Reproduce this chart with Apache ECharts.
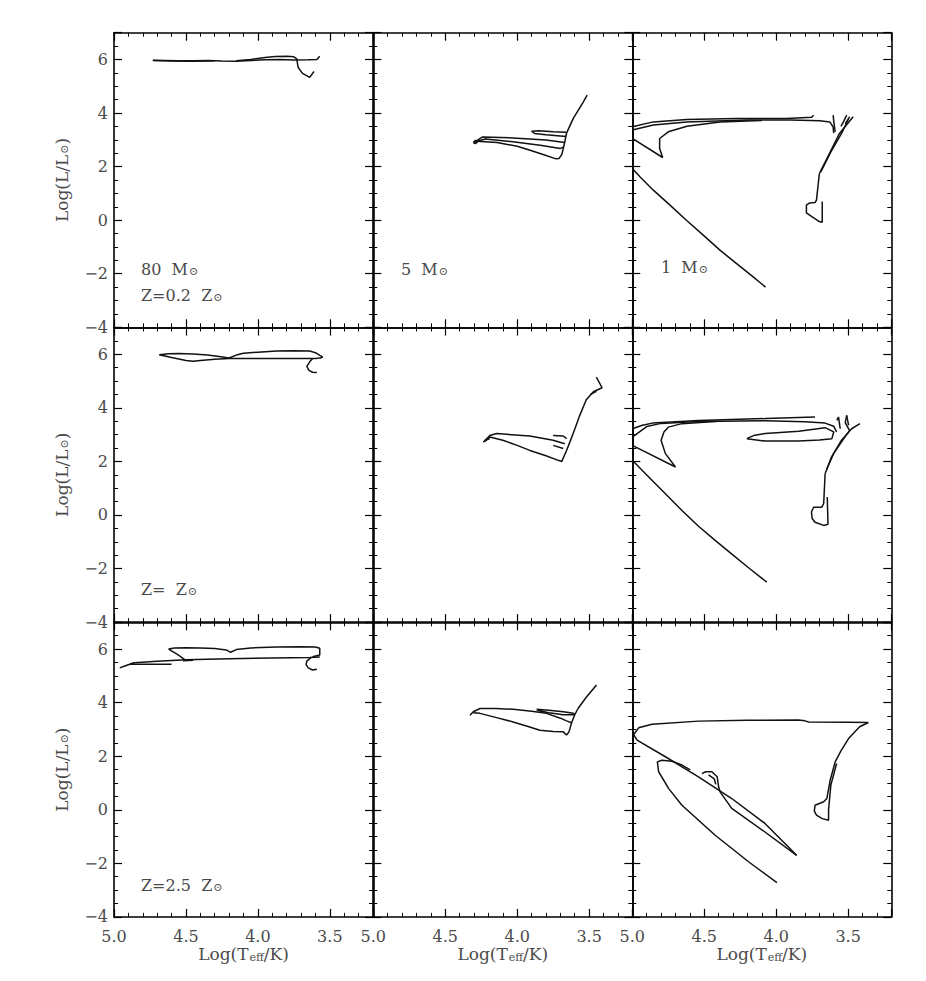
<!DOCTYPE html>
<html>
<head>
<meta charset="utf-8">
<script src="https://cdn.jsdelivr.net/npm/echarts@6/dist/echarts.min.js"></script>
<style>
  html, body { margin: 0; padding: 0; background: #fff; }
  #chart { width: 926px; height: 981px; }
</style>
</head>
<body>
<div id="chart"></div>
<script>
// tick labels and axis ranges
var xTicks = [5.0, 4.5, 4.0, 3.5];
var yTicks = [-4, -2, 0, 2, 4, 6];
var xRange = [3.2, 5.0];
var yRange = [-4, 7];

// --- tracks, one list of polylines per panel: [logTeff, logL] ---
// 80 Msun
var m80z02 = [
  [[4.73,5.97],[4.65,5.96],[4.55,5.95],[4.45,5.95],[4.35,5.96],[4.25,5.94],[4.15,5.93],[4.05,5.96],[3.95,5.99],[3.85,6.0],[3.75,5.98],[3.65,5.99],[3.59,6.0],[3.57,6.12]],
  [[4.73,5.96],[4.6,5.94],[4.45,5.93],[4.3,5.95]],
  [[4.15,5.95],[4.05,6.0],[3.95,6.07],[3.88,6.11],[3.8,6.12],[3.75,6.1],[3.73,6.02],[3.72,5.7],[3.69,5.48],[3.64,5.33],[3.61,5.55]]
];
var m80z1 = [
  [[4.685,5.98],[4.62,6.02],[4.55,6.03],[4.45,6.01],[4.35,5.97],[4.27,5.92],[4.20,5.86],[4.15,5.97],[4.10,6.04],[4.0,6.08],[3.87,6.12],[3.75,6.13],[3.64,6.12],[3.60,6.06],[3.57,5.96],[3.55,5.90],[3.57,5.85]],
  [[4.685,5.98],[4.6,5.88],[4.5,5.77],[4.45,5.74],[4.4,5.77],[4.3,5.81],[4.2,5.84],[4.0,5.84],[3.8,5.84],[3.69,5.84],[3.6,5.84],[3.57,5.86]],
  [[3.62,5.84],[3.64,5.72],[3.66,5.55],[3.645,5.40],[3.62,5.33],[3.59,5.32]]
];
var m80z25 = [
  [[4.96,5.30],[4.92,5.38],[4.86,5.49],[4.89,5.44],[4.60,5.43]],
  [[4.86,5.49],[4.7,5.55],[4.5,5.60],[4.2,5.64],[3.9,5.67],[3.64,5.69],[3.57,5.70]],
  [[4.52,5.56],[4.45,5.58]],
  [[4.51,5.62],[4.56,5.80],[4.62,6.0],[4.58,6.04],[4.5,6.05],[4.4,6.04],[4.3,6.02],[4.22,5.97],[4.19,5.88],[4.15,5.98],[4.05,6.04],[3.87,6.08],[3.7,6.09],[3.6,6.08],[3.57,6.03],[3.57,5.78],[3.62,5.71]],
  [[3.63,5.69],[3.66,5.55],[3.665,5.42],[3.65,5.30],[3.62,5.22],[3.59,5.25]]
];
// 5 Msun
var m5z02 = [
  [[4.30,2.90],[4.28,2.95],[4.14,2.90],[4.0,2.76],[3.91,2.61],[3.82,2.45],[3.73,2.29],[3.71,2.30],[3.69,2.45],[3.67,2.90],[3.657,3.25],[3.61,3.80],[3.54,4.42],[3.514,4.67]],
  [[4.28,2.95],[4.22,3.03],[4.03,2.93],[3.84,2.80],[3.70,2.68],[3.68,2.72]],
  [[4.28,2.97],[4.24,3.11],[4.03,3.07],[3.80,2.99],[3.67,2.90]],
  [[4.305,2.90],[4.29,2.98],[4.27,2.96],[4.29,2.86],[4.305,2.90]],
  [[3.66,3.28],[3.75,3.30],[3.85,3.34],[3.90,3.32],[3.88,3.24],[3.80,3.19],[3.70,3.14],[3.66,3.12]]
];
var m5z1 = [
  [[4.224,2.75],[4.19,2.91],[4.10,2.79],[4.0,2.60],[3.912,2.41],[3.80,2.21],[3.715,2.04],[3.69,2.0],[3.657,2.41],[3.634,2.72],[3.60,3.2],[3.565,3.72],[3.52,4.3],[3.47,4.6],[3.41,4.75],[3.45,5.15]],
  [[4.224,2.78],[4.19,2.97],[4.143,3.04],[3.912,2.95],[3.75,2.79],[3.669,2.66]],
  [[3.75,2.60],[3.68,2.48]],
  [[3.75,2.97],[3.68,2.95],[3.657,2.85]],
  [[4.235,2.72],[4.22,2.80],[4.19,2.85]],
  [[3.49,4.50],[3.45,4.62]]
];
var m5z25 = [
  [[4.328,3.53],[4.305,3.66],[4.259,3.78],[4.15,3.78],[4.028,3.75],[3.90,3.68],[3.796,3.60],[3.70,3.42],[3.657,3.32],[3.622,3.25]],
  [[4.305,3.62],[4.259,3.60],[4.15,3.45],[4.028,3.28],[3.93,3.12],[3.842,2.97],[3.75,2.92],[3.68,2.91],[3.657,2.79],[3.64,2.91],[3.622,3.25],[3.60,3.55],[3.576,3.79],[3.52,4.2],[3.449,4.66]],
  [[3.865,3.75],[3.78,3.72],[3.68,3.66],[3.61,3.60],[3.60,3.55],[3.68,3.55],[3.78,3.62],[3.865,3.72]]
];
// 1 Msun
var m1z02 = [
  [[5.0,1.93],[4.947,1.62],[4.854,1.12],[4.738,0.56],[4.622,-0.01],[4.507,-0.56],[4.391,-1.12],[4.275,-1.62],[4.16,-2.12],[4.074,-2.50]],
  [[5.0,3.49],[4.854,3.67],[4.622,3.76],[4.275,3.80],[3.928,3.80],[3.754,3.84],[3.74,3.92]],
  [[5.0,3.37],[4.854,3.55],[4.622,3.67],[4.2,3.74],[3.9,3.74],[3.697,3.71],[3.628,3.67],[3.605,3.49],[3.60,3.25]],
  [[5.0,3.05],[4.789,2.34],[4.81,2.68],[4.81,3.05],[4.75,3.30],[4.62,3.51],[4.39,3.67],[4.1,3.72]],
  [[3.70,1.74],[3.63,2.49],[3.56,3.24],[3.465,3.86]],
  [[3.69,1.80],[3.62,2.55],[3.54,3.30],[3.49,3.86],[3.52,3.60]],
  [[3.604,3.92],[3.60,3.70],[3.59,3.30]],
  [[3.51,3.92],[3.53,3.70],[3.55,3.50]],
  [[3.70,1.74],[3.72,0.75],[3.73,0.66],[3.77,0.64],[3.79,0.56],[3.79,0.27],[3.75,0.12],[3.70,-0.05],[3.68,-0.08],[3.68,0.2],[3.68,0.70]]
];
var m1z1 = [
  [[5.0,2.04],[4.886,1.42],[4.77,0.79],[4.655,0.17],[4.54,-0.42],[4.424,-0.95],[4.31,-1.45],[4.19,-1.98],[4.065,-2.51]],
  [[5.0,3.22],[4.93,3.35],[4.86,3.43],[4.54,3.53],[4.076,3.60],[3.73,3.66]],
  [[5.0,2.91],[4.90,3.30],[4.80,3.42],[4.54,3.49],[4.076,3.52],[3.80,3.48],[3.66,3.43],[3.60,3.31],[3.58,3.10]],
  [[5.0,2.60],[4.70,1.79],[4.77,2.29],[4.80,2.79],[4.78,3.10],[4.75,3.28],[4.655,3.41],[4.4,3.50]],
  [[4.204,2.85],[4.15,2.98],[4.076,3.04],[3.844,3.13],[3.66,3.26],[3.60,3.10],[3.613,2.85],[3.70,2.80],[3.844,2.76],[4.076,2.76],[4.204,2.85]],
  [[3.66,1.54],[3.616,2.16],[3.546,2.79],[3.476,3.22],[3.418,3.41]],
  [[3.65,1.70],[3.60,2.30],[3.53,2.85],[3.49,3.15],[3.52,3.45],[3.51,3.72]],
  [[3.578,3.53],[3.567,3.66],[3.555,3.22]],
  [[3.51,3.72],[3.497,3.35]],
  [[3.66,1.54],[3.67,0.42],[3.683,0.29],[3.74,0.29],[3.755,0.11],[3.75,-0.13],[3.73,-0.27],[3.67,-0.39],[3.64,-0.35],[3.645,0.67]]
];
var m1z25 = [
  [[4.967,2.60],[4.99,2.81],[4.956,3.06],[4.863,3.19],[4.54,3.31],[4.2,3.34],[3.845,3.35],[3.80,3.32],[3.775,3.28],[3.5,3.27],[3.36,3.26]],
  [[3.36,3.26],[3.42,3.10],[3.497,2.66],[3.55,2.20],[3.59,1.79],[3.625,1.10],[3.648,0.42],[3.67,0.30],[3.73,0.17],[3.735,-0.05],[3.72,-0.20],[3.68,-0.33],[3.636,-0.39],[3.636,0.0],[3.62,0.92],[3.58,1.73]],
  [[4.967,2.60],[4.77,1.98],[4.54,1.23],[4.309,0.42],[4.078,-0.51],[3.858,-1.70]],
  [[3.858,-1.70],[4.078,-0.83],[4.309,0.05],[4.39,0.67],[4.40,0.85],[4.41,1.23],[4.447,1.42],[4.49,1.42],[4.516,1.35]],
  [[4.47,1.30],[4.43,1.15],[4.42,0.95]],
  [[4.597,1.49],[4.655,1.67],[4.724,1.81],[4.794,1.85],[4.826,1.79],[4.817,1.42],[4.747,0.79],[4.655,0.17],[4.424,-0.95],[4.19,-1.95],[3.995,-2.72]]
];

// rows: metallicity, columns: mass
var panels = [
  [m80z02, m5z02, m1z02],
  [m80z1, m5z1, m1z1],
  [m80z25, m5z25, m1z25]
];

var colLeft = [114, 373.3, 632.3];
var rowTop = [32.7, 327.5, 622.3];
var panelW = 259;
var panelH = 294.6;
var font = 'DejaVu Serif';
var grey = '#4a4a4a';
var subStyle = { fontFamily: font, fontSize: 11, color: grey, verticalAlign: 'bottom', padding: [0, 0, 0, 1] };

function isTick(list, v) {
  return list.some(function(t) { return Math.abs(t - v) < 1e-6; });
}

function makeX(g, pos, labels) {
  return {
    type: 'value', gridIndex: g, position: pos,
    min: xRange[0], max: xRange[1], inverse: true, splitNumber: 4,
    axisLine: { show: true, onZero: false, lineStyle: { color: '#000', width: 1.6 } },
    axisTick: { show: true, inside: true, length: 8, lineStyle: { color: '#000', width: 1.2 } },
    minorTick: { show: true, splitNumber: 5, length: 4, lineStyle: { color: '#000', width: 1 } },
    splitLine: { show: false },
    axisLabel: {
      show: labels, margin: 12, color: grey, fontFamily: font, fontSize: 16,
      formatter: function(v) { return isTick(xTicks, v) ? v.toFixed(1) : ''; }
    },
    name: labels ? 'Log(T{s|eff}/K)' : '',
    nameLocation: 'middle', nameGap: 27,
    nameTextStyle: { fontFamily: font, fontSize: 17, color: grey, rich: { s: subStyle } }
  };
}

function makeY(g, pos, labels) {
  return {
    type: 'value', gridIndex: g, position: pos,
    min: yRange[0], max: yRange[1], interval: 2,
    axisLine: { show: true, onZero: false, lineStyle: { color: '#000', width: 1.6 } },
    axisTick: { show: true, inside: true, length: 8, lineStyle: { color: '#000', width: 1.2 } },
    minorTick: { show: true, splitNumber: 4, length: 4, lineStyle: { color: '#000', width: 1 } },
    splitLine: { show: false },
    axisLabel: {
      show: labels, margin: 6, color: grey, fontFamily: font, fontSize: 16,
      formatter: function(v) {
        if (!isTick(yTicks, v)) return '';
        return v < 0 ? '\u2212' + Math.abs(v) : String(v);
      }
    },
    name: labels ? 'Log(L/L{s|⊙})' : '',
    nameLocation: 'middle', nameRotate: 90, nameGap: 44,
    nameTextStyle: { fontFamily: font, fontSize: 17, color: grey, rich: { s: subStyle } }
  };
}

var grids = [], xAxes = [], yAxes = [], series = [];
for (var r = 0; r < 3; r++) {
  for (var c = 0; c < 3; c++) {
    var g = grids.length;
    grids.push({ left: colLeft[c], top: rowTop[r], width: panelW, height: panelH, containLabel: false });
    xAxes.push(makeX(g, 'bottom', r === 2));
    xAxes.push(makeX(g, 'top', false));
    yAxes.push(makeY(g, 'left', c === 0));
    yAxes.push(makeY(g, 'right', false));
    panels[r][c].forEach(function(seg) {
      series.push({
        type: 'line', xAxisIndex: 2 * g, yAxisIndex: 2 * g,
        data: seg, showSymbol: false, silent: true,
        lineStyle: { color: '#111', width: 1.5 }
      });
    });
  }
}

function note(text, left, top) {
  return {
    text: text, left: left, top: top, padding: 0,
    textStyle: { fontFamily: font, fontSize: 16, fontWeight: 'normal', color: grey, rich: { s: subStyle } }
  };
}

var chart = echarts.init(document.getElementById('chart'), null, { renderer: 'svg' });
chart.setOption({
  animation: false,
  backgroundColor: '#fff',
  title: [
    note('80  M{s|⊙}', 141, 261),
    note('Z=0.2  Z{s|⊙}', 141, 287),
    note('5  M{s|⊙}', 401, 261),
    note('1  M{s|⊙}', 661, 259),
    note('Z=  Z{s|⊙}', 141, 581),
    note('Z=2.5  Z{s|⊙}', 141, 877)
  ],
  grid: grids,
  xAxis: xAxes,
  yAxis: yAxes,
  series: series
});
window.addEventListener('resize', function() { chart.resize(); });
</script>
</body>
</html>
